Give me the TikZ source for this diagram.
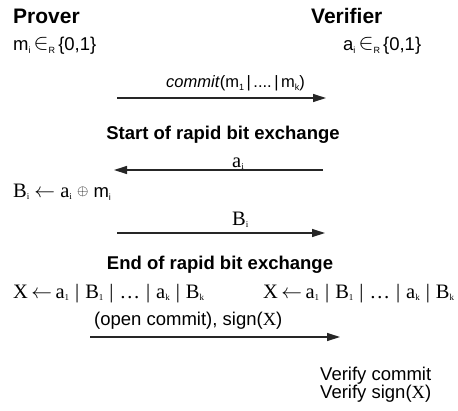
\documentclass[tikz,border=0pt]{standalone}
\usepackage{fontspec}
\setmainfont{Liberation Sans}
\newfontfamily\tms{Liberation Serif}
\usetikzlibrary{arrows.meta}
\newcommand\sbs[1]{\raisebox{-0.35ex}{\fontsize{9}{9}\selectfont #1}}
\newcommand\tsb[1]{\raisebox{-0.3ex}{\fontsize{9}{9}\selectfont\tms #1}}
\newcommand\ELEM{\raisebox{0.1ex}{\scalebox{1.3}{$\in$}}}
\newcommand\vbsep{\hspace{6pt}|\hspace{6pt}}
\newcommand\cbar{\hspace{2.5pt}|\hspace{2.5pt}}
\tikzset{
  txt/.style={anchor=base west, inner sep=0pt, font=\fontsize{18.5}{22}\selectfont},
  ctxt/.style={anchor=base west, inner sep=0pt, font=\fontsize{16.5}{20}\selectfont},
  ser/.style={anchor=base west, inner sep=0pt, font=\fontsize{20.5}{24}\selectfont\tms},
  head/.style={anchor=base, inner sep=0pt, font=\fontsize{18.5}{22}\selectfont\bfseries},
  role/.style={anchor=base west, inner sep=0pt, font=\fontsize{21}{25}\selectfont\bfseries},
  msg/.style={draw=black!85, line width=1.3pt, -{Triangle[length=13pt,width=8pt]}},
}
\begin{document}
\begin{tikzpicture}[x=1pt,y=-1pt]
\useasboundingbox (0,0) rectangle (458,410);
\node[role] (prover) at (13,23) {Prover};
\node[role] (verifier) at (311,23) {Verifier};
\node[txt] (mi) at (13,50) {m\sbs{i}\,\ELEM\sbs{R}\,\{0,1\}};
\node[txt] (ai) at (343,50) {a\sbs{i}\,\ELEM\sbs{R}\,\{0,1\}};
\node[ctxt] (commit) at (166,87) {\textit{commit}(m\sbs{1}\cbar....\cbar m\sbs{k})};
\coordinate (c1s) at (117,98);
\coordinate (c1e) at (326,98);
\draw[msg] (c1s) -- (c1e);
\node[head] (start) at (223,139) {Start of rapid bit exchange};
\node[ser] (alab) at (232,167) {a\tsb{i}};
\coordinate (c2s) at (323,170);
\coordinate (c2e) at (114,170);
\draw[msg] (c2s) -- (c2e);
\node[ser] (bcalc) at (13,197) {B\tsb{i} $\leftarrow$ a\tsb{i} \raisebox{0.2ex}{\scalebox{0.7}{$\oplus$}} {\rmfamily\fontsize{18.5}{22}\selectfont m\sbs{i}}};
\node[ser] (blab) at (232,225) {B\tsb{i}};
\coordinate (c3s) at (117,233);
\coordinate (c3e) at (325,233);
\draw[msg] (c3s) -- (c3e);
\node[head] (end) at (220,269) {End of rapid bit exchange};
\node[ser] (xl) at (13,298) {X\,$\leftarrow$\,a\tsb{1}\vbsep B\tsb{1}\vbsep\dots\vbsep a\tsb{k}\vbsep B\tsb{k}};
\node[ser] (xr) at (263,298) {X\,$\leftarrow$\,a\tsb{1}\vbsep B\tsb{1}\vbsep\dots\vbsep a\tsb{k}\vbsep B\tsb{k}};
\node[txt] (open) at (94,325) {(open commit), sign({\tms X})};
\coordinate (c4s) at (90,337);
\coordinate (c4e) at (340,337);
\draw[msg] (c4s) -- (c4e);
\node[txt] (v1) at (320,380) {Verify commit};
\node[txt] (v2) at (320,398) {Verify sign({\tms X})};
\end{tikzpicture}
\end{document}
